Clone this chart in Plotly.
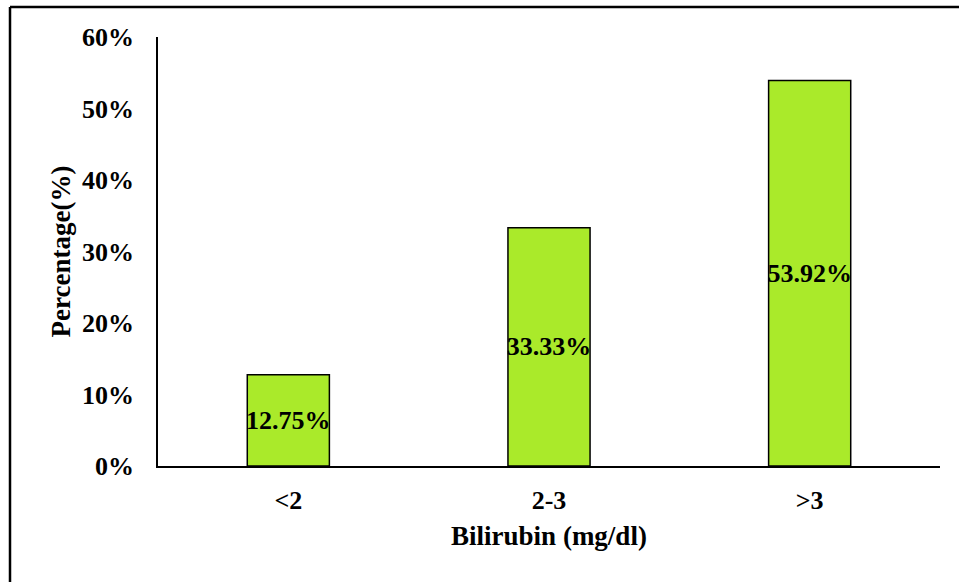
import plotly.graph_objects as go

# Bilirubin groups and share of patients in each
categories = ["<2", "2-3", ">3"]
percentages = [12.75, 33.33, 53.92]
y_ticks = [0, 10, 20, 30, 40, 50, 60]

FONT = "Times New Roman, Liberation Serif, Times, serif"

values = [p / 100 for p in percentages]
labels = [f"{p:.2f}%" for p in percentages]

fig = go.Figure(
    go.Bar(
        x=categories,
        y=values,
        text=labels,
        textposition="inside",
        insidetextanchor="middle",
        constraintext="none",
        textangle=0,
        textfont=dict(family=FONT, size=26, color="black", weight="bold"),
        marker=dict(color="#AAEA2A", line=dict(color="black", width=1.5)),
        hoverinfo="skip",
    )
)

fig.update_layout(
    width=959,
    height=582,
    margin=dict(l=158, r=19, t=37, b=116),
    paper_bgcolor="white",
    plot_bgcolor="white",
    bargap=0.685,
    showlegend=False,
    font=dict(family=FONT, color="black", weight="bold"),
    xaxis=dict(
        showline=True,
        linecolor="black",
        linewidth=1.5,
        ticks="",
        showgrid=False,
        tickfont=dict(family=FONT, size=26, weight="bold"),
        ticklabelstandoff=10,
        title=dict(
            text="Bilirubin (mg/dl)",
            font=dict(family=FONT, size=27, weight="bold"),
            standoff=12,
        ),
    ),
    yaxis=dict(
        range=[0, 0.6],
        tickvals=[t / 100 for t in y_ticks],
        ticktext=[f"{t}%" for t in y_ticks],
        showline=True,
        linecolor="black",
        linewidth=1.5,
        ticks="",
        showgrid=False,
        zeroline=False,
        tickfont=dict(family=FONT, size=26, weight="bold"),
        ticklabelstandoff=17,
        title=dict(
            text="Percentage(%)",
            font=dict(family=FONT, size=27, weight="bold"),
            standoff=4,
        ),
    ),
)

# Frame running along the top and left edges of the figure
frame_x = (10 - 158) / 782
frame_y = (466 - 7) / 429
fig.add_shape(type="line", xref="paper", yref="paper",
              x0=frame_x, y0=frame_y, x1=1.2, y1=frame_y,
              line=dict(color="black", width=2.5))
fig.add_shape(type="line", xref="paper", yref="paper",
              x0=frame_x, y0=frame_y, x1=frame_x, y1=-0.5,
              line=dict(color="black", width=2.5))

fig.write_html("out.html")
